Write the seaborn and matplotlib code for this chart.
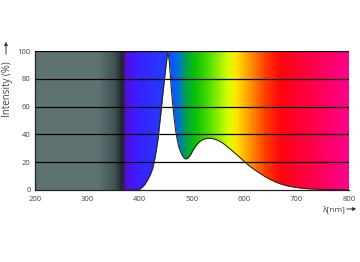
import numpy as np
import pandas as pd
import matplotlib
matplotlib.use("Agg")
import matplotlib.pyplot as plt
from matplotlib.colors import LinearSegmentedColormap
import seaborn as sns

sns.set_theme(style="white")
plt.rcParams['font.family'] = ['Open Sans', 'DejaVu Sans']

wavelength = [380, 390, 395, 400, 405, 410, 415, 420, 425, 430, 435, 440, 445, 450,
              454, 457, 460, 463, 466, 470, 475, 480, 485, 488, 492, 497, 502, 508,
              515, 524, 532, 540, 550, 560, 570, 580, 590, 600, 610, 620, 630, 640,
              650, 660, 670, 680, 690, 700, 715, 730, 750, 775, 800]
intensity = [0, 0, 0.1, 0.5, 2, 4, 7, 10.5, 15.5, 24, 36, 53, 71, 88,
             100, 92, 76, 63, 52, 40, 31, 26, 23, 22.3, 22.8, 25, 28.5, 32,
             35, 36.8, 37.3, 37, 35.7, 33.5, 30.5, 27.3, 24, 20.5, 17.3, 14.5, 12, 9.6,
             7.5, 5.7, 4.3, 3.2, 2.4, 1.8, 1.1, 0.7, 0.4, 0.15, 0]
x_ticks = [200, 300, 400, 500, 600, 700, 800]
y_ticks = [0, 20, 40, 60, 80, 100]

df = pd.DataFrame({"wl": wavelength, "I": intensity})

# background spectrum gradient stops (style)
stops = [(200, (0.37, 0.45, 0.45)), (320, (0.37, 0.45, 0.45)), (352, (0.25, 0.32, 0.32)),
         (366, (0.10, 0.15, 0.15)), (374, (0.35, 0.05, 0.85)), (388, (0.25, 0.10, 1.0)),
         (450, (0.12, 0.25, 1.0)), (470, (0.0, 0.40, 0.95)), (490, (0.0, 0.65, 0.25)),
         (510, (0.05, 0.78, 0.0)), (540, (0.40, 0.90, 0.0)), (570, (0.85, 1.0, 0.0)),
         (585, (1.0, 0.90, 0.0)), (610, (1.0, 0.60, 0.0)), (640, (1.0, 0.25, 0.0)),
         (670, (1.0, 0.02, 0.05)), (720, (1.0, 0.0, 0.25)), (800, (1.0, 0.0, 0.55))]
cmap = LinearSegmentedColormap.from_list(
    "spec", [((w - 200) / 600, c) for w, c in stops])

fig = plt.figure(figsize=(3.6, 2.62), dpi=100)
ax = fig.add_axes([0.097, 0.275, 0.872, 0.53])

grad = np.linspace(0, 1, 600).reshape(1, -1)
ax.imshow(grad, cmap=cmap, extent=[200, 800, 0, 100], aspect="auto", zorder=0)

ax.fill_between(df["wl"], df["I"], 0, color="white", zorder=1, linewidth=0)
sns.lineplot(data=df, x="wl", y="I", color="#2a2a10", linewidth=0.8, ax=ax, zorder=3)

for y in y_ticks[1:]:
    ax.axhline(y, color="black", linewidth=0.9, zorder=2)

ax.set_xlim(200, 800)
ax.set_ylim(0, 100)
ax.set_xticks(x_ticks)
ax.set_yticks(y_ticks)
ax.tick_params(axis="both", length=0, labelsize=5.5, colors="#444444")
ax.tick_params(axis="x", pad=4)
ax.tick_params(axis="y", pad=3)
ax.set_xlabel("")
ax.set_ylabel("")
for s in ["top", "right"]:
    ax.spines[s].set_visible(False)
for s in ["left", "bottom"]:
    ax.spines[s].set_color("#222222")
    ax.spines[s].set_linewidth(0.9)

fig.text(8 / 360, 1 - 89 / 262, "Intensity (%)", rotation=90, ha="center", va="center",
         fontsize=7, color="#444444")
fig.patches.append(matplotlib.patches.FancyArrowPatch(
    (6 / 360, 1 - 57 / 262), (6 / 360, 1 - 39 / 262), transform=fig.transFigure,
    arrowstyle="-|>", mutation_scale=5, color="#333333", linewidth=0.7))
fig.text(333 / 360, 1 - 209 / 262, "λ[nm]", ha="center", va="center",
         fontsize=6, color="#444444")
fig.patches.append(matplotlib.patches.FancyArrowPatch(
    (344 / 360, 1 - 209 / 262), (359 / 360, 1 - 209 / 262), transform=fig.transFigure,
    arrowstyle="-|>", mutation_scale=5, color="#333333", linewidth=0.7))

fig.savefig("out.png", dpi=100)
